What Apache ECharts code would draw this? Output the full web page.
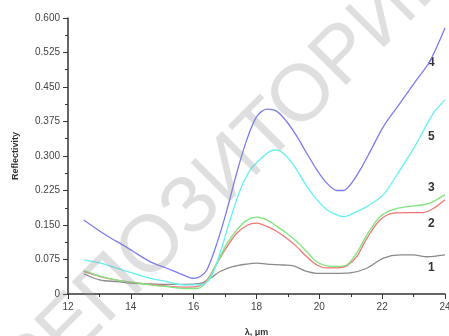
<!DOCTYPE html>
<html>
<head>
<meta charset="utf-8">
<script src="https://cdn.jsdelivr.net/npm/echarts@6/dist/echarts.min.js"></script>
<style>
  html, body { margin: 0; padding: 0; background: #fff; }
  #chart { width: 449px; height: 336px; }
</style>
</head>
<body>
<div id="chart"></div>
<script>
// wavelength (um) and reflectivity, one pair of arrays per curve
const lam1 = [12.50, 13.03, 13.56, 14.09, 14.62, 15.15, 15.68, 16.21, 16.53, 16.84, 17.27, 17.69, 18.01, 18.33, 18.86, 19.18, 19.60, 19.92, 20.45, 20.98, 21.51, 22.04, 22.57, 22.99, 23.42, 24.00];
const r1   = [0.044, 0.030, 0.027, 0.023, 0.022, 0.021, 0.021, 0.023, 0.034, 0.049, 0.060, 0.065, 0.067, 0.065, 0.063, 0.061, 0.049, 0.045, 0.045, 0.046, 0.056, 0.078, 0.085, 0.085, 0.081, 0.085];

const lam2 = [12.50, 13.03, 13.56, 14.09, 14.62, 15.15, 15.68, 16.10, 16.42, 16.74, 17.06, 17.37, 17.69, 18.01, 18.33, 18.65, 18.96, 19.28, 19.60, 19.92, 20.24, 20.56, 20.87, 21.19, 21.51, 21.93, 22.36, 22.78, 23.31, 23.63, 24.00];
const r2   = [0.049, 0.038, 0.030, 0.025, 0.021, 0.017, 0.015, 0.016, 0.030, 0.067, 0.103, 0.132, 0.149, 0.154, 0.147, 0.136, 0.121, 0.103, 0.081, 0.063, 0.057, 0.057, 0.061, 0.081, 0.121, 0.161, 0.176, 0.177, 0.177, 0.186, 0.205];

const lam3 = [12.50, 13.03, 13.56, 14.09, 14.62, 15.15, 15.68, 16.10, 16.42, 16.74, 17.06, 17.37, 17.69, 18.01, 18.33, 18.65, 18.96, 19.28, 19.60, 19.92, 20.24, 20.56, 20.87, 21.19, 21.51, 21.93, 22.36, 22.78, 23.31, 23.63, 24.00];
const r3   = [0.051, 0.039, 0.030, 0.025, 0.020, 0.016, 0.012, 0.012, 0.027, 0.067, 0.110, 0.139, 0.160, 0.167, 0.161, 0.147, 0.132, 0.114, 0.092, 0.070, 0.061, 0.060, 0.063, 0.089, 0.128, 0.168, 0.184, 0.190, 0.194, 0.201, 0.216];

const lam4 = [12.50, 13.03, 13.45, 13.66, 14.09, 14.62, 15.15, 15.68, 16.00, 16.21, 16.42, 16.74, 17.06, 17.37, 17.69, 18.01, 18.33, 18.65, 18.96, 19.28, 19.60, 19.92, 20.24, 20.56, 20.77, 20.98, 21.30, 21.62, 22.04, 22.57, 23.10, 23.52, 24.00];
const r4   = [0.161, 0.136, 0.118, 0.110, 0.092, 0.070, 0.056, 0.041, 0.034, 0.038, 0.052, 0.110, 0.183, 0.263, 0.335, 0.386, 0.402, 0.397, 0.375, 0.343, 0.306, 0.270, 0.241, 0.225, 0.225, 0.237, 0.270, 0.310, 0.364, 0.415, 0.466, 0.506, 0.578];

const lam5 = [12.50, 13.03, 13.56, 14.09, 14.62, 15.15, 15.68, 16.21, 16.53, 16.84, 17.16, 17.48, 17.80, 18.12, 18.43, 18.65, 18.96, 19.28, 19.60, 19.92, 20.24, 20.56, 20.77, 21.09, 21.51, 22.04, 22.57, 23.10, 23.63, 24.00];
const r5   = [0.074, 0.067, 0.056, 0.045, 0.034, 0.027, 0.020, 0.020, 0.034, 0.089, 0.161, 0.226, 0.270, 0.293, 0.310, 0.313, 0.299, 0.270, 0.234, 0.205, 0.183, 0.172, 0.168, 0.176, 0.190, 0.216, 0.270, 0.328, 0.393, 0.422];

const curveNames = ['1', '2', '3', '4', '5'];
const curveColors = ['#8a8a8a', '#f07676', '#7ee67e', '#7c7cf2', '#66f0f0'];
const curveLams = [lam1, lam2, lam3, lam4, lam5];
const curveVals = [r1, r2, r3, r4, r5];

const pair = (xs, ys) => xs.map((x, i) => [x, ys[i]]);

const chart = echarts.init(document.getElementById('chart'));
const font = 'Liberation Sans, Arial, sans-serif';

const option = {
  animation: false,
  backgroundColor: '#fff',
  grid: { left: 68, right: 4, top: 18, bottom: 42, containLabel: false, outerBoundsMode: 'none' },
  xAxis: {
    type: 'value',
    min: 12,
    max: 24,
    interval: 2,
    name: 'λ, μm',
    nameLocation: 'middle',
    nameGap: 34,
    nameTextStyle: { fontFamily: font, fontSize: 9, fontWeight: 'bold', color: '#333' },
    axisLine: { lineStyle: { color: '#333', width: 1.5 } },
    axisTick: { length: 5, lineStyle: { color: '#333' } },
    minorTick: { show: true, splitNumber: 2, length: 3, lineStyle: { color: '#333' } },
    splitLine: { show: false },
    axisLabel: { fontFamily: font, fontSize: 10, color: '#444', margin: 8 }
  },
  yAxis: {
    type: 'value',
    min: 0,
    max: 0.6,
    interval: 0.075,
    name: 'Reflectivity',
    nameLocation: 'middle',
    nameRotate: 90,
    nameGap: 48,
    nameTextStyle: { fontFamily: font, fontSize: 9, fontWeight: 'bold', color: '#333' },
    axisLine: { show: true, lineStyle: { color: '#333', width: 1.5 } },
    axisTick: { show: true, length: 5, lineStyle: { color: '#333' } },
    minorTick: { show: true, splitNumber: 2, length: 3, lineStyle: { color: '#333' } },
    splitLine: { show: false },
    axisLabel: {
      fontFamily: font, fontSize: 10, color: '#444', margin: 8,
      formatter: (v) => (v === 0 ? '0' : v.toFixed(3))
    }
  },
  series: curveNames.map((n, i) => ({
    name: n,
    type: 'line',
    data: pair(curveLams[i], curveVals[i]),
    smooth: 0.3,
    showSymbol: false,
    lineStyle: { color: curveColors[i], width: 1.3 },
    z: 2
  })),
  graphic: [
    // curve numbers on the right
    { type: 'text', left: 428, top: 57, style: { text: '4', font: 'bold 12px ' + font, fill: '#333' } },
    { type: 'text', left: 428, top: 131, style: { text: '5', font: 'bold 12px ' + font, fill: '#333' } },
    { type: 'text', left: 428, top: 182, style: { text: '3', font: 'bold 12px ' + font, fill: '#333' } },
    { type: 'text', left: 428, top: 218, style: { text: '2', font: 'bold 12px ' + font, fill: '#333' } },
    { type: 'text', left: 428, top: 262, style: { text: '1', font: 'bold 12px ' + font, fill: '#333' } },
    // repository watermark
    {
      type: 'text',
      x: 230, y: 170,
      rotation: Math.PI / 4,
      z: 100,
      style: {
        text: 'РЕПОЗИТОРИЙ',
        font: '80px ' + font,
        fill: 'rgba(150,150,150,0.3)',
        align: 'center',
        verticalAlign: 'middle'
      }
    }
  ]
};

chart.setOption(option);
</script>
</body>
</html>
